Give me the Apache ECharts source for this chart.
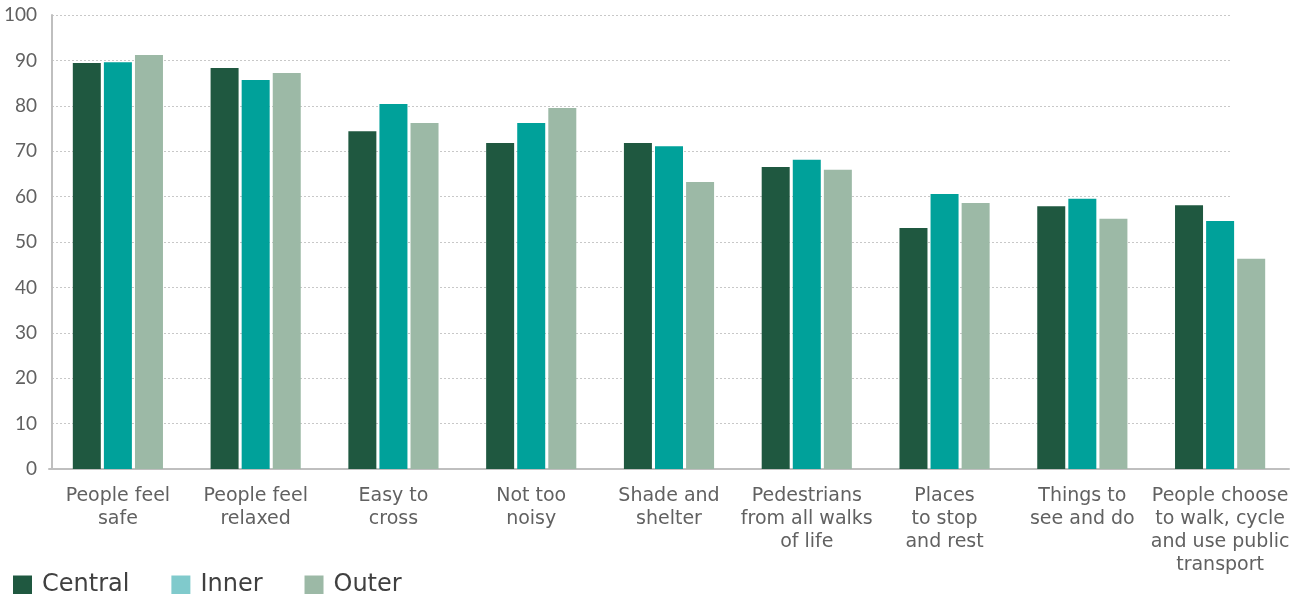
<!DOCTYPE html>
<html>
<head>
<meta charset="utf-8">
<script src="https://cdn.jsdelivr.net/npm/echarts@6/dist/echarts.min.js"></script>
<style>
  html, body { margin: 0; padding: 0; background: #ffffff; }
  #chart { width: 1309px; height: 594px; }
</style>
</head>
<body>
<div id="chart"></div>
<script>
// Street quality indicators, share of respondents (%) by area
const categories = [
  'People feel\nsafe',
  'People feel\nrelaxed',
  'Easy to\ncross',
  'Not too\nnoisy',
  'Shade and\nshelter',
  'Pedestrians\nfrom all walks\nof life',
  'Places\nto stop\nand rest',
  'Things to\nsee and do',
  'People choose\nto walk, cycle\nand use public\ntransport'
];
const central = [89.4, 88.3, 74.4, 71.8, 71.8, 66.5, 53.1, 57.9, 58.1];
const inner   = [89.6, 85.7, 80.4, 76.2, 71.1, 68.1, 60.6, 59.5, 54.6];
const outer   = [91.2, 87.2, 76.2, 79.5, 63.2, 65.9, 58.6, 55.1, 46.3];
const yTicks = { min: 0, max: 100, step: 10 };

const LABEL_FONT = '"DejaVu Sans", "Open Sans", sans-serif';
const NUM_FONT = 'Lato, sans-serif';
const TEXT = '#616161';
const AXIS = '#bfbfbf';

const chart = echarts.init(document.getElementById('chart'));

const bar = (name, data, color) => ({
  name, type: 'bar', data,
  xAxisIndex: 0, yAxisIndex: 0,
  barWidth: 28, barGap: '11%',
  itemStyle: { color },
  emphasis: { disabled: true }
});

chart.setOption({
  animation: false,
  backgroundColor: '#ffffff',
  textStyle: { fontFamily: LABEL_FONT },
  grid: [
    { left: 49, right: 20, top: 15, bottom: 125 },   // bars + category axis
    { left: 52, right: 79, top: 15, bottom: 125 }    // value axis + gridlines
  ],
  legend: {
    left: 8, top: 568,
    icon: 'rect', itemWidth: 19, itemHeight: 19, itemGap: 42,
    textStyle: { fontSize: 24, color: '#404040', fontFamily: LABEL_FONT, padding: [0, 0, 0, 5] },
    data: [
      { name: 'Central' },
      { name: 'Inner', itemStyle: { color: '#80cacc' } },
      { name: 'Outer' }
    ]
  },
  xAxis: [
    {
      type: 'category', gridIndex: 0, data: categories,
      axisLine: { show: true, lineStyle: { color: AXIS, width: 2 } },
      axisTick: { show: false },
      axisLabel: { color: TEXT, fontSize: 19, lineHeight: 23, margin: 16, interval: 0, fontFamily: LABEL_FONT },
      splitLine: { show: false }
    },
    { type: 'value', gridIndex: 1, min: 0, max: 1, show: false }
  ],
  yAxis: [
    { type: 'value', gridIndex: 0, min: yTicks.min, max: yTicks.max, interval: yTicks.step, show: false },
    {
      type: 'value', gridIndex: 1, min: yTicks.min, max: yTicks.max, interval: yTicks.step,
      axisLine: { show: true, lineStyle: { color: AXIS, width: 2 } },
      axisTick: { show: false },
      axisLabel: { color: TEXT, fontSize: 19, margin: 15, fontFamily: NUM_FONT },
      splitLine: { show: true, lineStyle: { color: '#c8c8c8', type: [2, 2], width: 1 } }
    }
  ],
  series: [
    bar('Central', central, '#1f5840'),
    bar('Inner', inner, '#00a19a'),
    bar('Outer', outer, '#9cb9a6')
  ]
});
</script>
</body>
</html>
